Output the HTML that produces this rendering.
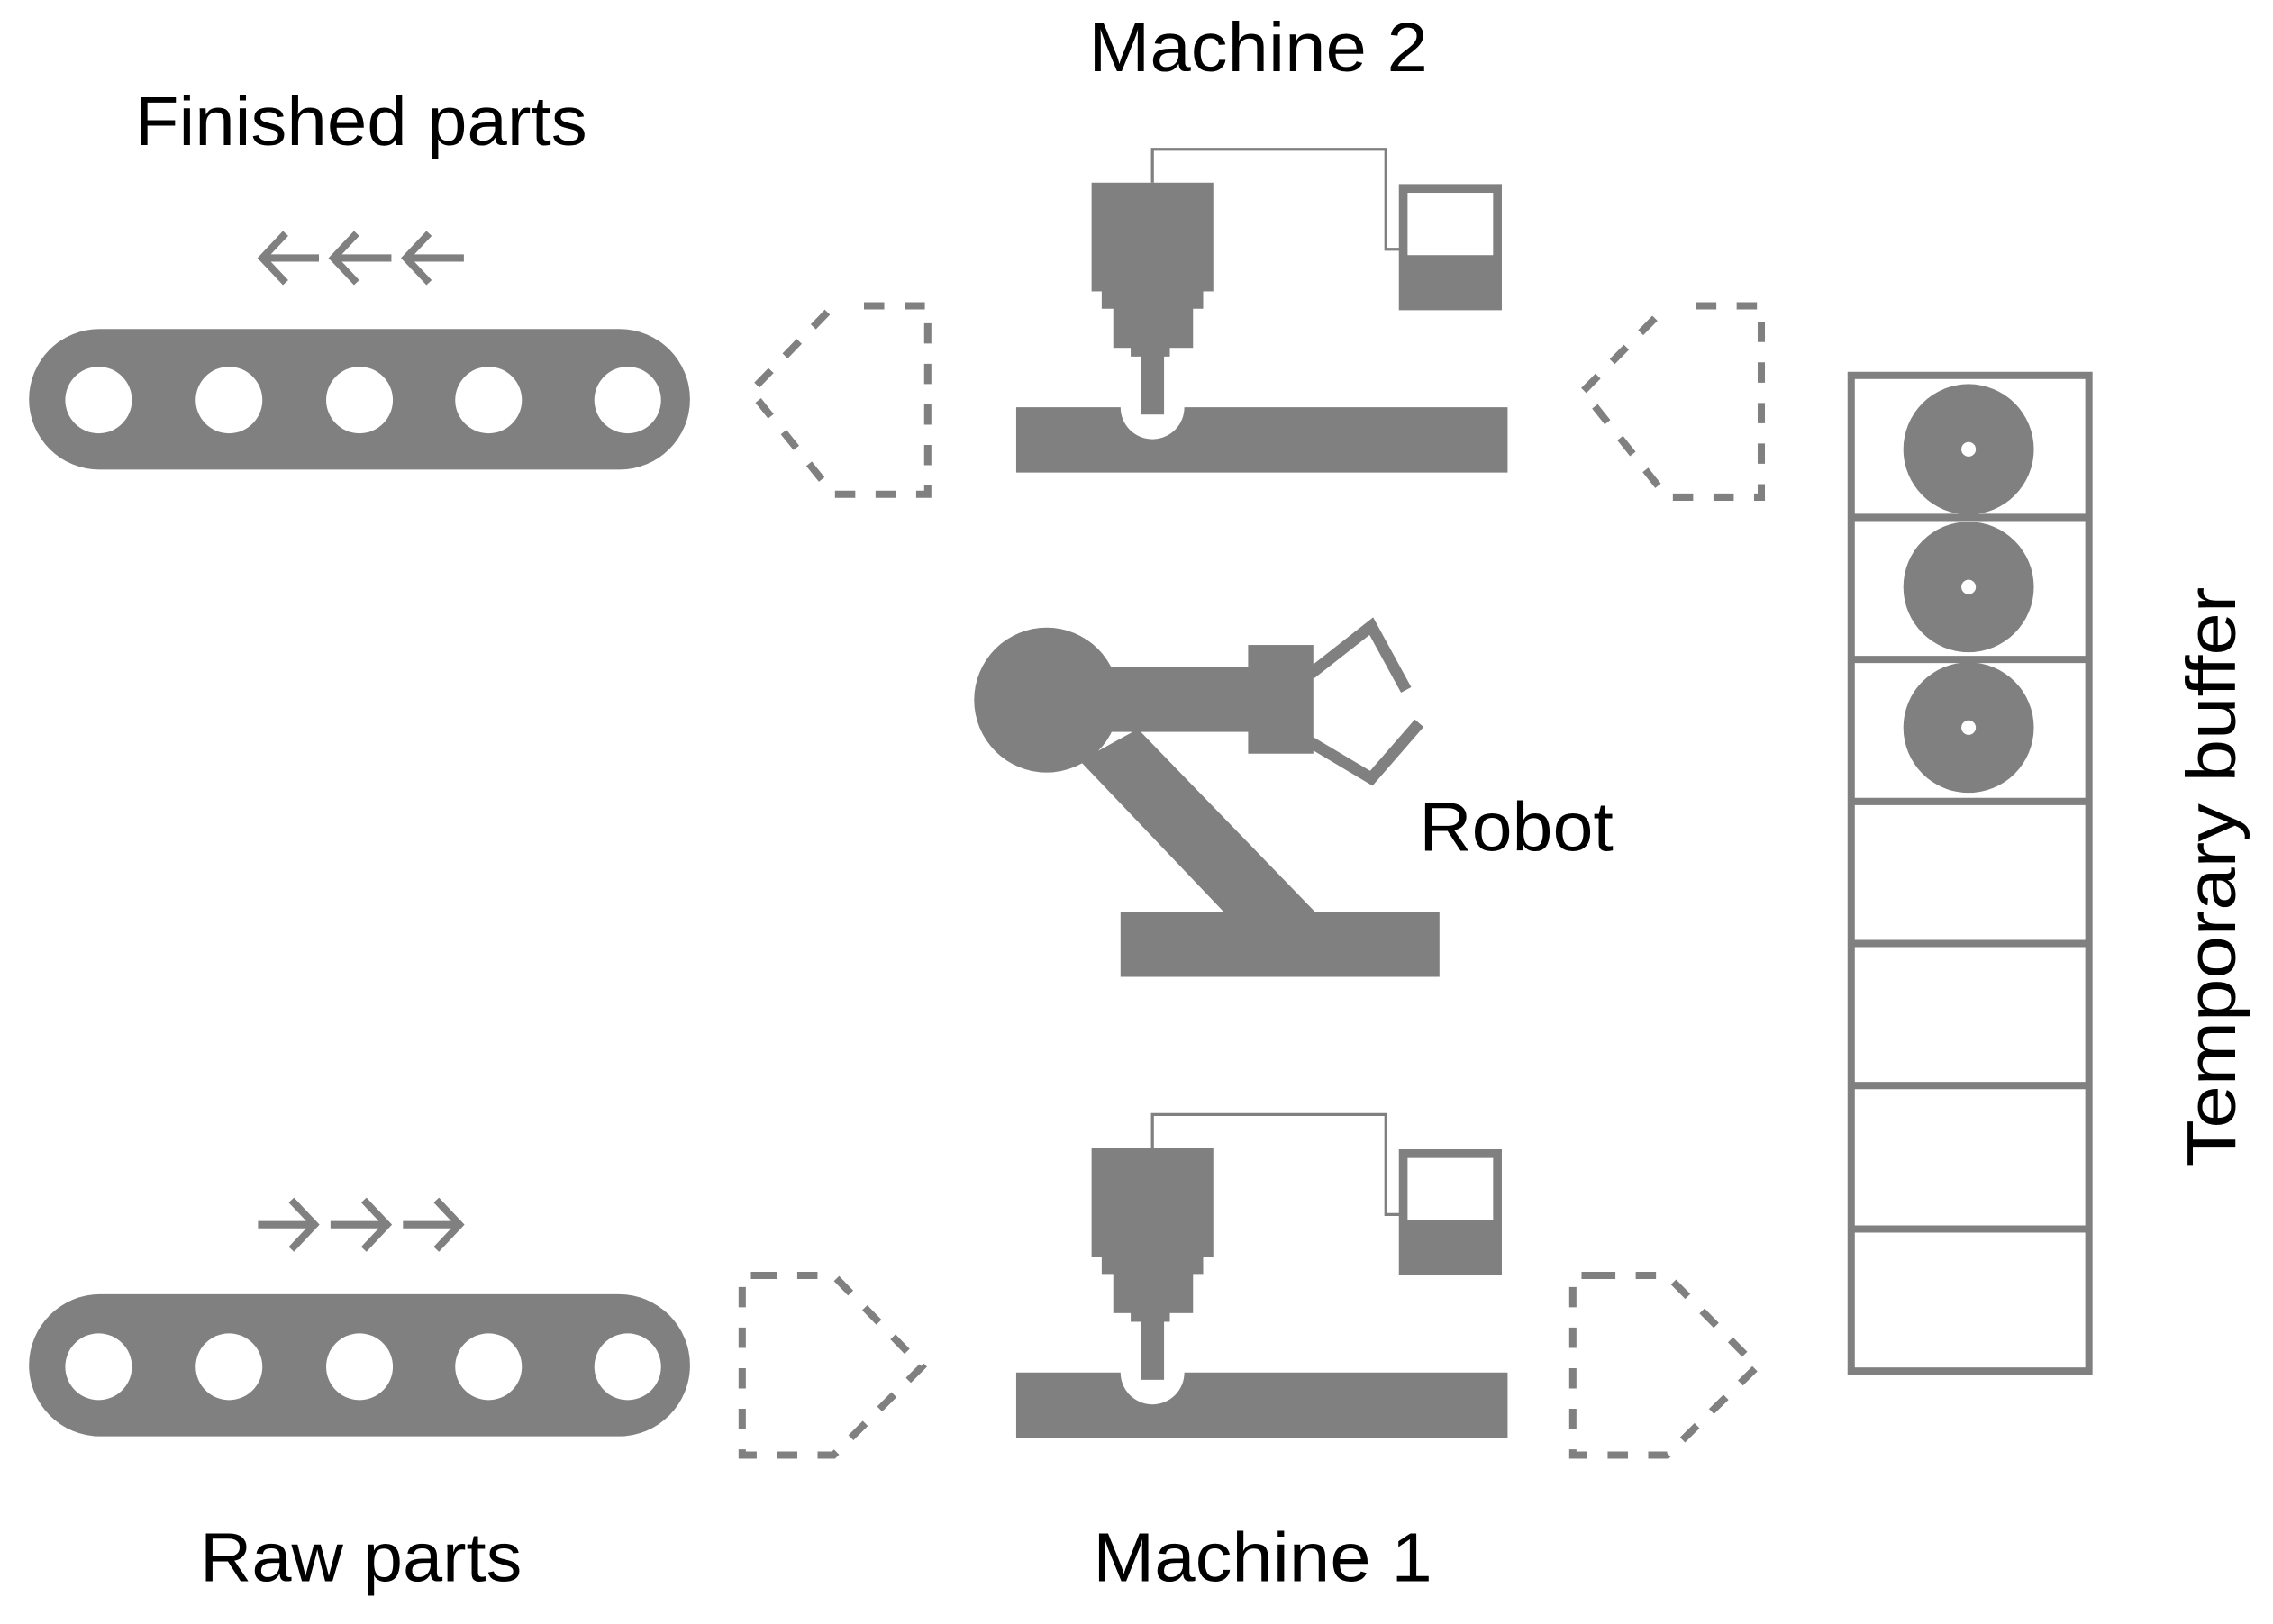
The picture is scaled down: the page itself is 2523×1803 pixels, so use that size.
<!DOCTYPE html>
<html><head><style>html,body{margin:0;padding:0;background:#fff}svg{display:block}</style></head>
<body>
<svg width="2523" height="1803" viewBox="0 0 1568 1120.5" xmlns="http://www.w3.org/2000/svg">
<rect width="1568" height="1121" fill="#fff"/>
<g font-family="Liberation Sans, sans-serif" font-size="48" fill="#000" text-anchor="middle">
<text x="249" y="100" textLength="312" lengthAdjust="spacingAndGlyphs">Finished parts</text>
<text x="868" y="49" textLength="234" lengthAdjust="spacingAndGlyphs">Machine 2</text>
<text x="249" y="1091" textLength="222" lengthAdjust="spacingAndGlyphs">Raw parts</text>
<text x="871" y="1091" textLength="234" lengthAdjust="spacingAndGlyphs">Machine 1</text>
<text x="1046" y="587" textLength="134" lengthAdjust="spacingAndGlyphs">Robot</text>
<text transform="translate(1542,605) rotate(-90)" textLength="400" lengthAdjust="spacingAndGlyphs">Temporary buffer</text>
</g>
<g fill="none" stroke="#808080" stroke-width="5">
<path d="M182 178H220M197 161L181 178L197 195"/>
<path d="M231 178H270M246 161L230 178L246 195"/>
<path d="M281 178H320M296 161L280 178L296 195"/>
<path d="M178 845H216M201 828L217 845L201 862"/>
<path d="M228 845H266M251 828L267 845L251 862"/>
<path d="M278 845H316M301 828L317 845L301 862"/>
</g>
<g fill="#808080">
<rect x="20" y="227" width="456" height="97" rx="48.5"/>
<rect x="20" y="893" width="456" height="98" rx="49"/>
</g>
<g fill="#fff">
<circle cx="68" cy="276" r="23"/><circle cx="158" cy="276" r="23"/><circle cx="248" cy="276" r="23"/><circle cx="337" cy="276" r="23"/><circle cx="433" cy="276" r="23"/>
<circle cx="68" cy="943" r="23"/><circle cx="158" cy="943" r="23"/><circle cx="248" cy="943" r="23"/><circle cx="337" cy="943" r="23"/><circle cx="433" cy="943" r="23"/>
</g>
<g fill="none" stroke="#808080" stroke-width="5" stroke-dasharray="14 14">
<path d="M596 211H640V341H575L518 270L575 211"/>
<path d="M1170 211H1215V343H1150L1092 270L1150 211"/>
<path d="M532 880H512V1004H575L636 943L575 880Z"/>
<path d="M1105 880H1085V1004H1150L1212 943L1150 880Z"/>
</g>
<g id="m">
<path d="M795 126V103H956V172H966" fill="none" stroke="#808080" stroke-width="2"/>
<g fill="#808080">
<rect x="753" y="126" width="84" height="75"/>
<rect x="760" y="200" width="70" height="13"/>
<rect x="768" y="212" width="55" height="28"/>
<rect x="780" y="239" width="27" height="7"/>
<rect x="787" y="245" width="16" height="41"/>
<path d="M701 281H773A22 22 0 0 0 817 281H1040V326H701Z"/>
<rect x="965" y="127" width="71" height="87"/>
</g>
<rect x="971" y="133" width="59" height="43" fill="#fff"/>
</g>
<use href="#m" transform="translate(0,666)"/>
<g fill="#808080">
<circle cx="722" cy="483" r="50"/>
<polygon points="745,525 785,503 908,630 845,630"/>
<rect x="750" y="460" width="112" height="45"/>
<rect x="861" y="445" width="45" height="75"/>
<rect x="773" y="629" width="220" height="45"/>
</g>
<g fill="none" stroke="#808080" stroke-width="8">
<path d="M904 465L946 432L970 476"/>
<path d="M904 512L946 537L979 499"/>
</g>
<g fill="none" stroke="#808080" stroke-width="5">
<rect x="1277" y="259" width="164" height="687"/>
<path d="M1277 357H1441M1277 455H1441M1277 553H1441M1277 651H1441M1277 749H1441M1277 848H1441"/>
</g>
<g fill="#808080"><circle cx="1358" cy="310" r="45"/><circle cx="1358" cy="405" r="45"/><circle cx="1358" cy="502" r="45"/></g>
<g fill="#fff"><circle cx="1358" cy="310" r="5"/><circle cx="1358" cy="405" r="5"/><circle cx="1358" cy="502" r="5"/></g>
</svg>
</body></html>
